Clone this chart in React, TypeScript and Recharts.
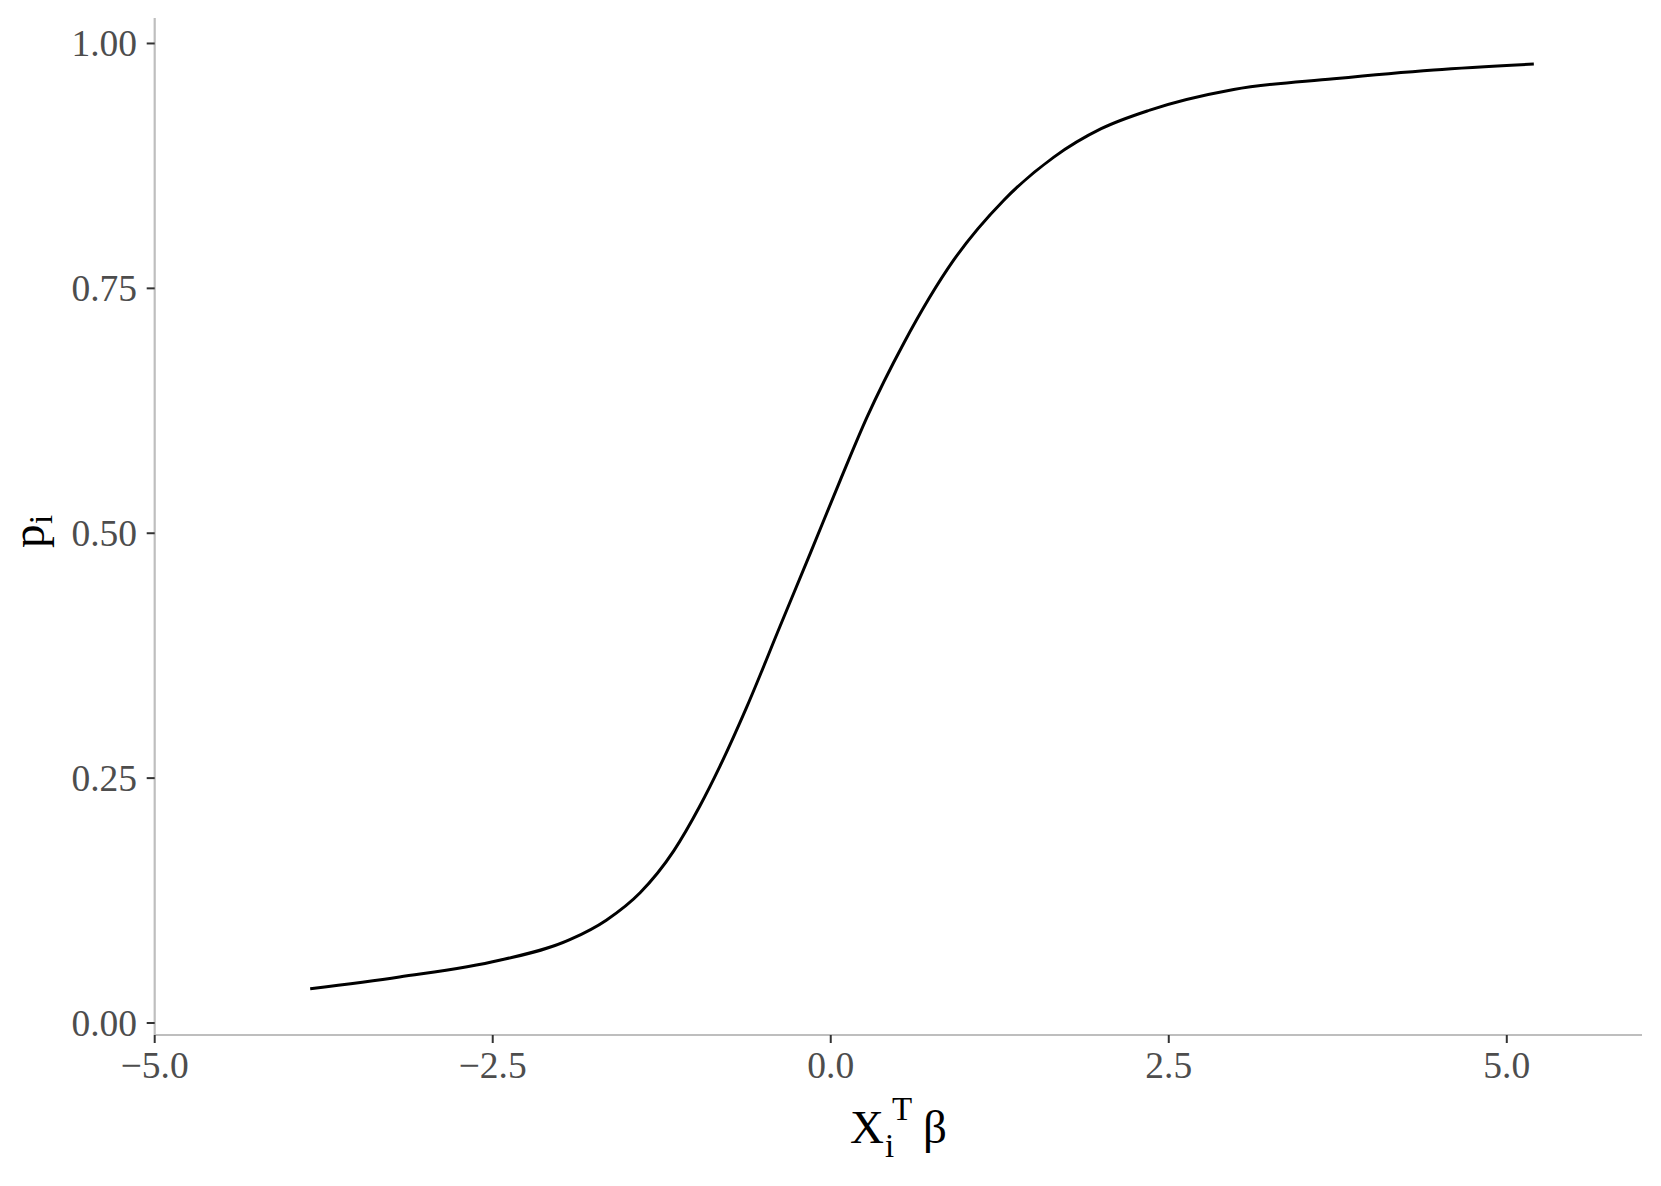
import React from "react";
import { LineChart, Line, XAxis, YAxis } from "recharts";

const xValues = [-3.85, -3.19, -2.45, -1.93, -1.66, -1.41, -1.16, -0.97, -0.82, -0.62, -0.375, -0.15, 0.07, 0.27, 0.54, 0.91, 1.28, 1.65, 2.0, 2.36, 2.98, 3.72, 4.46, 5.2];
const pValues = [0.035, 0.047, 0.064, 0.085, 0.105, 0.133, 0.176, 0.221, 0.262, 0.323, 0.405, 0.48, 0.554, 0.619, 0.694, 0.779, 0.84, 0.884, 0.913, 0.932, 0.953, 0.964, 0.973, 0.979];
const xTicks = [-5, -2.5, 0, 2.5, 5];
const yTicks = [0, 0.25, 0.5, 0.75, 1];

const data = xValues.map((x, i) => ({ x, p: pValues[i] }));

const FONT = "'Liberation Serif', 'Times New Roman', serif";
const TICK_COLOR = "#4d4d4d";

const fmtX = (v: number) => {
  const s = Math.abs(v).toFixed(1);
  return v < 0 ? "\u2212" + s : s;
};

const XTick = (props: any) => {
  const { x, payload } = props;
  return (
    <text x={x} y={1078} textAnchor="middle" fontFamily={FONT} fontSize={37.5} fill={TICK_COLOR}>
      {fmtX(payload.value)}
    </text>
  );
};

const YTick = (props: any) => {
  const { y, payload } = props;
  return (
    <text x={137} y={y} dy={12.5} textAnchor="end" fontFamily={FONT} fontSize={37.5} fill={TICK_COLOR}>
      {Number(payload.value).toFixed(2)}
    </text>
  );
};

const XTitle = () => (
  <g fontFamily={FONT} fill="#000">
    <text x={850} y={1143} fontSize={47}>X</text>
    <text x={892} y={1120} fontSize={33}>T</text>
    <text x={885} y={1157} fontSize={33}>i</text>
    <text x={923} y={1143} fontSize={47}>β</text>
  </g>
);

const YTitle = () => (
  <g fontFamily={FONT} fill="#000">
    <text transform="translate(44, 548) rotate(-90)" fontSize={47}>
      <tspan x={0} y={0}>p</tspan>
      <tspan x={24} y={8} fontSize={33}>i</tspan>
    </text>
  </g>
);

export default function App() {
  return (
    <div style={{ position: "absolute", left: 0, top: 0 }}>
      <LineChart
        width={1661}
        height={1186}
        data={data}
        margin={{ top: 18, right: 19, bottom: 0, left: 0 }}
        style={{ background: "#fff" }}
      >
        <XAxis
          dataKey="x"
          type="number"
          domain={[-5, 6]}
          ticks={xTicks}
          allowDataOverflow
          height={151}
          axisLine={{ stroke: "#bebebe", strokeWidth: 2.2 }}
          tickLine={{ stroke: "#333333", strokeWidth: 2 }}
          tickSize={8}
          tick={<XTick />}
          interval={0}
          label={{ content: () => <XTitle /> }}
        />
        <YAxis
          type="number"
          domain={[-0.01225, 1.026]}
          ticks={yTicks}
          allowDataOverflow
          width={154.7}
          axisLine={{ stroke: "#bebebe", strokeWidth: 2.2 }}
          tickLine={{ stroke: "#333333", strokeWidth: 2 }}
          tickSize={8}
          tick={<YTick />}
          interval={0}
          label={{ content: () => <YTitle /> }}
        />
        <Line
          type="monotone"
          dataKey="p"
          stroke="#000"
          strokeWidth={3}
          dot={false}
          isAnimationActive={false}
        />
      </LineChart>
    </div>
  );
}
